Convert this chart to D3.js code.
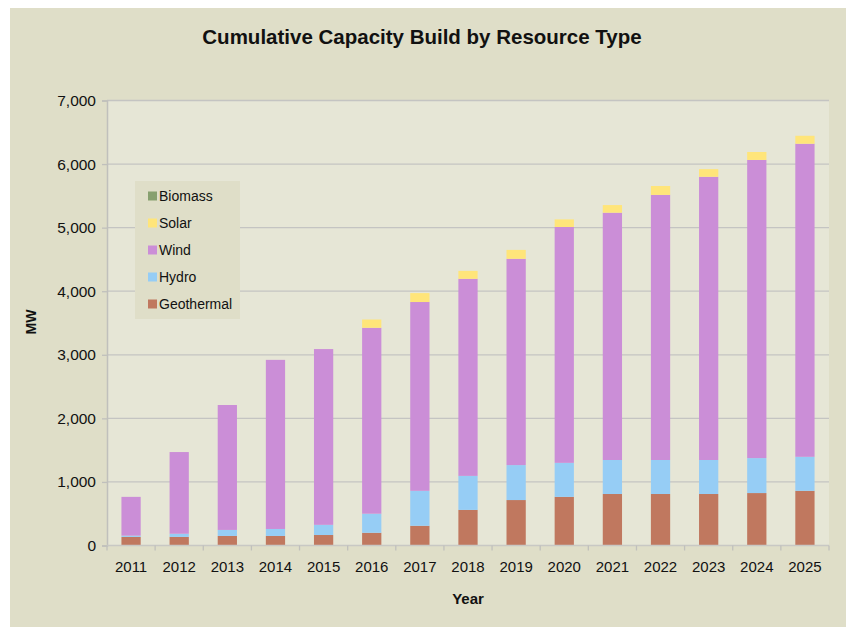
<!DOCTYPE html>
<html>
<head>
<meta charset="utf-8">
<script src="https://cdn.jsdelivr.net/npm/d3@7"></script>
<style>
  html, body { margin: 0; padding: 0; background: #ffffff; }
  svg { display: block; font-family: "Liberation Sans", Arial, sans-serif; }
</style>
</head>
<body>
<svg id="chart" width="846" height="627"></svg>
<script>
// ---- Data ----
const years = ["2011","2012","2013","2014","2015","2016","2017","2018","2019","2020","2021","2022","2023","2024","2025"];
const geothermal = [135, 135, 150, 150, 165, 200, 310, 560, 715, 765, 810, 810, 810, 825, 860];
const hydro      = [20, 50, 95, 110, 160, 300, 550, 535, 550, 535, 535, 535, 535, 550, 535];
const wind       = [610, 1285, 1965, 2660, 2765, 2925, 2970, 3100, 3245, 3710, 3890, 4170, 4455, 4690, 4925];
const solar      = [0, 0, 0, 0, 0, 130, 140, 125, 140, 120, 120, 140, 120, 125, 125];
const biomass    = [0, 0, 0, 0, 0, 0, 0, 0, 0, 0, 0, 0, 0, 0, 0];
const seriesNames = ["Geothermal", "Hydro", "Wind", "Solar", "Biomass"];
const legendOrder = ["Biomass", "Solar", "Wind", "Hydro", "Geothermal"];
const yTicks = [0, 1000, 2000, 3000, 4000, 5000, 6000, 7000];

const colors = {
  Geothermal: "#c0785f",
  Hydro: "#96cdf5",
  Wind: "#cb8ed7",
  Solar: "#ffe57a",
  Biomass: "#87a06f"
};

const table = years.map((y, i) => ({
  year: y,
  Geothermal: geothermal[i],
  Hydro: hydro[i],
  Wind: wind[i],
  Solar: solar[i],
  Biomass: biomass[i]
}));

// ---- Layout ----
const svg = d3.select("#chart");
const W = 846, H = 627;
const plot = { left: 107, right: 829, top: 100.5, bottom: 545.5 };

// outer panel
svg.append("rect").attr("x", 10).attr("y", 8).attr("width", W - 10).attr("height", H - 8).attr("fill", "#dfdec8");
// plot background
svg.append("rect").attr("x", plot.left).attr("y", plot.top)
  .attr("width", plot.right - plot.left).attr("height", plot.bottom - plot.top)
  .attr("fill", "#e6e6d6");

const x = d3.scaleBand().domain(years).range([plot.left, plot.right]).paddingInner(0.6).paddingOuter(0.3);
const y = d3.scaleLinear().domain([0, 7000]).range([plot.bottom, plot.top]);

// gridlines
svg.append("g").selectAll("line").data(yTicks.filter(d => d > 0)).join("line")
  .attr("x1", plot.left).attr("x2", plot.right)
  .attr("y1", d => y(d)).attr("y2", d => y(d))
  .attr("stroke", "#c4c4c2").attr("stroke-width", 1.3);

// bars
const stack = d3.stack().keys(seriesNames);
const stacked = stack(table);
svg.append("g").selectAll("g").data(stacked).join("g")
  .attr("fill", d => colors[d.key])
  .selectAll("rect").data(d => d).join("rect")
  .attr("x", d => x(d.data.year))
  .attr("width", x.bandwidth())
  .attr("y", d => y(d[1]))
  .attr("height", d => Math.max(0, y(d[0]) - y(d[1])));

// y axis
const yAxis = d3.axisLeft(y).tickValues(yTicks).tickFormat(d3.format(",")).tickSize(5).tickPadding(6);
const gy = svg.append("g").attr("transform", `translate(${plot.left},0)`).call(yAxis);
gy.select(".domain").attr("stroke", "#c0c0bc").attr("stroke-width", 1.5);
gy.selectAll(".tick line").attr("stroke", "#c0c0bc").attr("stroke-width", 1.3);
gy.selectAll(".tick text").attr("font-size", 15.5).attr("fill", "#111").attr("font-family", "Liberation Sans, Arial, sans-serif");

// x axis
const xAxis = d3.axisBottom(x).tickSize(0).tickPadding(16);
const gx = svg.append("g").attr("transform", `translate(0,${plot.bottom})`).call(xAxis);
gx.select(".domain").attr("stroke", "#c8c8c4").attr("stroke-width", 1.5).attr("d", `M${plot.left},0H${plot.right}`);
gx.selectAll(".tick text").attr("font-size", 15).attr("fill", "#111").attr("font-family", "Liberation Sans, Arial, sans-serif");
// boundary ticks between categories
const boundaries = d3.range(years.length + 1).map(i => plot.left + i * (plot.right - plot.left) / years.length);
gx.append("g").selectAll("line").data(boundaries).join("line")
  .attr("x1", d => d).attr("x2", d => d).attr("y1", 0).attr("y2", 5)
  .attr("stroke", "#c0c0bc").attr("stroke-width", 1.3);

// title
svg.append("text").attr("x", 422).attr("y", 44).attr("text-anchor", "middle")
  .attr("font-size", 20.5).attr("font-weight", "bold").attr("fill", "#111")
  .text("Cumulative Capacity Build by Resource Type");

// axis titles
svg.append("text").attr("x", 468).attr("y", 604).attr("text-anchor", "middle")
  .attr("font-size", 15).attr("font-weight", "bold").attr("fill", "#111").text("Year");
svg.append("text").attr("transform", "translate(36,322) rotate(-90)").attr("text-anchor", "middle")
  .attr("font-size", 14).attr("font-weight", "bold").attr("fill", "#111").text("MW");

// legend
const lg = svg.append("g");
lg.append("rect").attr("x", 135).attr("y", 181).attr("width", 105).attr("height", 138).attr("fill", "#dfdec8");
const rowY = d3.scalePoint().domain(legendOrder).range([196, 304]);
const items = lg.selectAll("g.item").data(legendOrder).join("g").attr("class", "item");
items.append("rect").attr("x", 148).attr("y", d => rowY(d) - 4.5).attr("width", 9).attr("height", 9)
  .attr("fill", d => colors[d]);
items.append("text").attr("x", 159).attr("y", d => rowY(d) + 5).attr("font-size", 14)
  .attr("fill", "#111").text(d => d);
</script>
</body>
</html>
